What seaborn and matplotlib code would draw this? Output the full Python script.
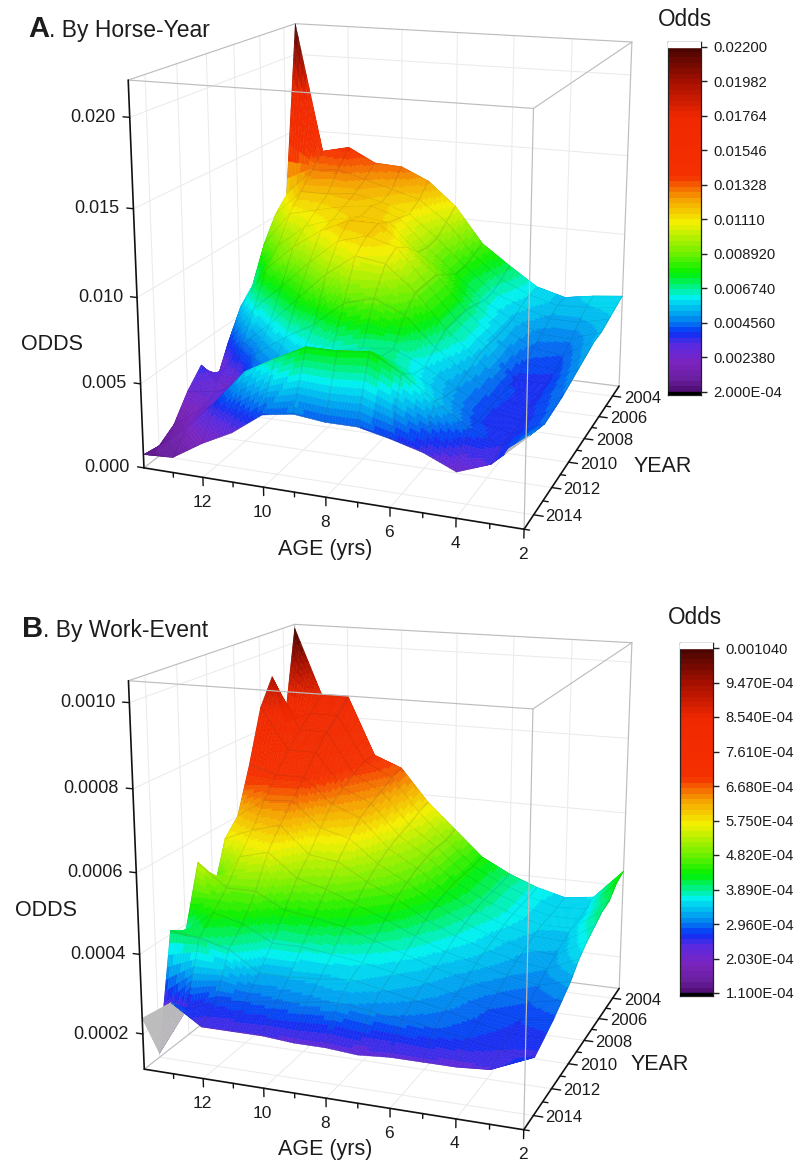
import numpy as np
import matplotlib
matplotlib.use("Agg")
import matplotlib.pyplot as plt
from matplotlib.colors import LinearSegmentedColormap, Normalize
from mpl_toolkits.mplot3d import proj3d
import seaborn as sns

W, H = 795, 1162
AGES = [14, 13, 12, 11, 10, 9, 8, 7, 6, 5, 4, 3, 2]
YEARS = list(range(2003, 2016))

ODDS_A = [
    [.0220, .0137, .0141, .0132, .0131, .0123, .0108, .0085, .0072, .0060, .0055, .0058, .0060],
    [.0110, .0128, .0130, .0125, .0120, .0115, .0102, .0082, .0068, .0060, .0055, .0056, .0058],
    [.0101, .0118, .0118, .0120, .0116, .0110, .0096, .0080, .0065, .0058, .0052, .0052, .0056],
    [.0086, .0108, .0112, .0116, .0118, .0112, .0095, .0080, .0065, .0055, .0048, .0047, .0054],
    [.0064, .0092, .0106, .0112, .0116, .0114, .0097, .0085, .0068, .0055, .0045, .0043, .0054],
    [.0055, .0082, .0098, .0110, .0118, .0118, .0105, .0090, .0070, .0055, .0042, .0040, .0052],
    [.0038, .0062, .0078, .0095, .0110, .0115, .0110, .0090, .0070, .0056, .0038, .0038, .0050],
    [.0018, .0045, .0060, .0078, .0095, .0108, .0105, .0090, .0070, .0055, .0040, .0038, .0048],
    [.0036, .0022, .0048, .0060, .0070, .0085, .0090, .0082, .0065, .0052, .0040, .0038, .0046],
    [.0026, .0028, .0036, .0048, .0058, .0062, .0066, .0068, .0060, .0050, .0040, .0036, .0045],
    [.0012, .0024, .0034, .0050, .0060, .0065, .0068, .0070, .0062, .0052, .0040, .0036, .0044],
    [.0006, .0020, .0038, .0058, .0068, .0077, .0077, .0079, .0069, .0056, .0044, .0036, .0047],
    [.0008, .0009, .0020, .0029, .0042, .0045, .0043, .0043, .0039, .0034, .0026, .0033, .0050],
]
ODDS_B_E6 = [
    [1040, 860, 860, 700, 670, 580, 510, 440, 400, 370, 350, 360, 440],
    [790, 820, 820, 700, 660, 570, 500, 435, 395, 365, 345, 350, 430],
    [930, 790, 790, 680, 640, 555, 500, 435, 395, 365, 345, 345, 405],
    [860, 750, 750, 660, 625, 545, 495, 435, 395, 365, 345, 345, 400],
    [720, 700, 700, 635, 605, 530, 485, 430, 390, 360, 340, 335, 385],
    [600, 650, 655, 590, 570, 510, 470, 420, 380, 350, 330, 325, 370],
    [560, 590, 610, 540, 530, 485, 450, 405, 370, 345, 325, 315, 350],
    [430, 540, 560, 500, 480, 450, 420, 385, 355, 335, 315, 300, 320],
    [540, 480, 480, 440, 430, 415, 390, 365, 340, 320, 300, 285, 300],
    [380, 440, 420, 380, 380, 370, 360, 345, 330, 310, 285, 270, 280],
    [410, 400, 380, 330, 330, 335, 345, 330, 315, 300, 280, 265, 265],
    [120, 245, 275, 285, 295, 305, 315, 305, 295, 285, 270, 255, 250],
    [240, 290, 240, 240, 240, 234, 234, 228, 234, 234, 234, 240, 275],
]
Z_TICKS_A = [0.0, 0.005, 0.010, 0.015, 0.020]
Z_LABELS_A = ["0.000", "0.005", "0.010", "0.015", "0.020"]
Z_TICKS_B = [0.0002, 0.0004, 0.0006, 0.0008, 0.0010]
Z_LABELS_B = ["0.0002", "0.0004", "0.0006", "0.0008", "0.0010"]
AGE_MAJOR = [12, 10, 8, 6, 4, 2]
AGE_MINOR = [13, 11, 9, 7, 5, 3]
YEAR_MAJOR = [2004, 2006, 2008, 2010, 2012, 2014]
YEAR_MINOR = [2005, 2007, 2009, 2011, 2013, 2015]
CB_LABELS_A = ["0.02200", "0.01982", "0.01764", "0.01546", "0.01328", "0.01110",
               "0.008920", "0.006740", "0.004560", "0.002380", "2.000E-04"]
CB_LABELS_B = ["0.001040", "9.470E-04", "8.540E-04", "7.610E-04", "6.680E-04", "5.750E-04",
               "4.820E-04", "3.890E-04", "2.960E-04", "2.030E-04", "1.100E-04"]

sns.set_theme(style="white")
plt.rcParams["font.family"] = ["Liberation Sans", "DejaVu Sans"]
TEXT = "#1c1c1c"
N_BANDS = 64

CMAP = LinearSegmentedColormap.from_list("odds", [
    (0.00, "#521078"), (0.03, "#6a1fa0"), (0.08, "#7a24c0"), (0.13, "#5a2ae0"), (0.165, "#0a30f5"),
    (0.20, "#0080f0"), (0.27, "#00f0f0"), (0.34, "#00f000"), (0.40, "#70f000"),
    (0.49, "#f4f000"), (0.56, "#f5a000"), (0.625, "#f53000"), (0.80, "#f02800"),
    (0.90, "#a81000"), (1.00, "#4a0500")]).resampled(N_BANDS)

fig = plt.figure(figsize=(W / 100, H / 100), dpi=100, facecolor="white")


def px_fig(x, y):
    return x / W, 1 - y / H


def solve_projection(ax, world, pixels, lo, hi):
    """Homography from the data box to the 2D view of a 3D axes."""
    world, pixels = np.array(world, float), np.array(pixels, float)
    lo, hi = np.array(lo, float), np.array(hi, float)
    cache = {}

    def get_proj():
        if "M" in cache:
            return cache["M"]
        ax.apply_aspect()
        disp = np.c_[pixels[:, 0], H - pixels[:, 1]]
        uv = ax.transData.inverted().transform(disp)
        U = (world - lo) / (hi - lo)
        rows = []
        for (X, Y, Z), (u, v) in zip(U, uv):
            rows.append([X, Y, Z, 1, 0, 0, 0, 0, -u * X, -u * Y, -u * Z, -u])
            rows.append([0, 0, 0, 0, X, Y, Z, 1, -v * X, -v * Y, -v * Z, -v])
        P = np.linalg.svd(np.array(rows))[2][-1].reshape(3, 4)
        if P[2] @ np.array([.5, .5, .5, 1]) < 0:
            P = -P
        P = P / (P[2] @ np.array([.5, .5, .5, 1]))
        S = np.diag(list(1 / (hi - lo)) + [1.0])
        S[:3, 3] = -lo / (hi - lo)
        cache["M"] = np.vstack([P[0], P[1], [0, 0, 0, -1], P[2]]) @ S
        return cache["M"]

    ax.get_proj = get_proj


STEPS = [0, .02, .1, .2, .3, .4, .5, .6, .7, .8, .9, .98]


def refine(values):
    out = [values[i] + s * (values[i + 1] - values[i])
           for i in range(len(values) - 1) for s in STEPS]
    return np.array(out + [values[-1]], float)


def place(ax, x, y, z, s, dx=0, dy=0, **kw):
    u, v, _ = proj3d.proj_transform(x, y, z, ax.get_proj())
    dxy = ax.transData.transform((u, v))
    fig.text((dxy[0] + dx) / W, (dxy[1] + dy) / H, s, color=TEXT, **kw)


def panel(top, odds, zlim, anchors, vrange, zticks, zlabels, grey, dz_unit):
    side = 660
    x0, y1 = px_fig(0, top + side)
    ax = fig.add_axes([x0, y1, side / W, side / H], projection="3d", computed_zorder=False)
    ax.set_axis_off()
    ax.patch.set_visible(False)
    ax.set_proj_type("ortho")
    zmin, zmax = zlim
    solve_projection(ax, anchors[0], anchors[1], (2, 2003, zmin), (14, 2015, zmax))

    age = np.array(AGES[::-1], float)
    year = np.array(YEARS, float)
    Z = np.array(odds, float)[:, ::-1]
    fa, fy = refine(age), refine(year)
    Zf = np.array([np.interp(fa, age, row) for row in Z])
    Zf = np.array([np.interp(fy, year, col) for col in Zf.T]).T
    A, Y = np.meshgrid(fa, fy)

    norm = Normalize(*vrange)
    Zc = Zf.copy()
    Zc[:-1, :-1] = (Zf[:-1, :-1] + Zf[1:, :-1] + Zf[:-1, 1:] + Zf[1:, 1:]) / 4
    rgba = CMAP(norm(Zc))
    n = len(STEPS)

    def is_line(f):
        return np.isin(np.arange(len(f)) % n, [0, n - 1]) & (np.arange(len(f)) < len(f) - 1)

    mask = is_line(fa)[None, :] | is_line(fy)[:, None]
    rgba[mask, :3] = rgba[mask, :3] * .88 + .12 * .25
    g = (A >= grey[0]) & (A < grey[1]) & (Y >= grey[2]) & (Y < grey[3])
    rgba[g] = matplotlib.colors.to_rgba("#bcbcbc")

    # walls and floor
    wall, wlw = "#ebebeb", .75
    for yr in YEAR_MAJOR:
        ax.plot([14, 14], [yr, yr], [zmin, zmax], color=wall, lw=wlw, zorder=1)
        ax.plot([14, 2], [yr, yr], [zmin, zmin], color=wall, lw=wlw, zorder=1)
    for a in AGE_MAJOR[:-1]:
        ax.plot([a, a], [2003, 2003], [zmin, zmax], color=wall, lw=wlw, zorder=1)
        ax.plot([a, a], [2003, 2015], [zmin, zmin], color=wall, lw=wlw, zorder=1)
    for z in zticks:
        ax.plot([14, 14], [2015, 2003], [z, z], color=wall, lw=wlw, zorder=1)
        ax.plot([14, 2], [2003, 2003], [z, z], color=wall, lw=wlw, zorder=1)
    edge, elw = "#bdbdbd", .85
    for xs, ys, zs, zo in [
        ([14, 2], [2015, 2015], [zmax, zmax], 3), ([2, 2], [2015, 2003], [zmax, zmax], 3),
        ([14, 2], [2003, 2003], [zmax, zmax], 1), ([14, 14], [2015, 2003], [zmax, zmax], 1),
        ([2, 2], [2003, 2003], [zmin, zmax], 1), ([14, 14], [2003, 2003], [zmin, zmax], 1),
        ([14, 2], [2003, 2003], [zmin, zmin], 1), ([14, 14], [2015, 2003], [zmin, zmin], 1),
        ([2, 2], [2015, 2015], [zmin, zmax], 3),
    ]:
        ax.plot(xs, ys, zs, color=edge, lw=elw, zorder=zo)

    ax.plot_surface(A, Y, Zf, rstride=1, cstride=1, facecolors=rgba, shade=False,
                    linewidth=.35, antialiased=True, zorder=2)

    # axes lines, ticks, labels
    blk = "#111111"
    ax.plot([14, 14], [2015, 2015], [zmin, zmax], color=blk, lw=1.2, zorder=4)
    ax.plot([14, 2], [2015, 2015], [zmin, zmin], color=blk, lw=1.2, zorder=4)
    ax.plot([2, 2], [2015, 2003], [zmin, zmin], color=blk, lw=1.2, zorder=4)
    for z, lab in zip(zticks, zlabels):
        ax.plot([14, 14.22], [2015, 2015], [z, z], color=blk, lw=1, zorder=4)
        place(ax, 14, 2015, z, lab, dx=-14, fontsize=13, ha="right", va="center")
    for a in AGE_MAJOR:
        ax.plot([a, a], [2015, 2015], [zmin, zmin - 9 * dz_unit], color=blk, lw=1, zorder=4)
        place(ax, a, 2015, zmin, str(a), dx=-1, dy=-25, fontsize=12.5, ha="center", va="center")
    for a in AGE_MINOR:
        ax.plot([a, a], [2015, 2015], [zmin, zmin - 5 * dz_unit], color=blk, lw=1, zorder=4)
    for yr in YEAR_MAJOR:
        ax.plot([2, 1.72], [yr, yr], [zmin, zmin], color=blk, lw=1, zorder=4)
        place(ax, 2, yr, zmin, str(yr), dx=30, dy=-2, fontsize=12, ha="center", va="center")
    for yr in YEAR_MINOR:
        ax.plot([2, 1.84], [yr, yr], [zmin, zmin], color=blk, lw=1, zorder=4)
    return ax


def colorbar(x0, x1, y0, y1, y_hi, y_lo, vrange, labels):
    l, b = px_fig(x0, y1)
    cax = fig.add_axes([l, b, (x1 - x0) / W, (y1 - y0) / H])
    levels = np.linspace(vrange[1], vrange[0], N_BANDS)
    sns.heatmap(levels[:, None], ax=cax, cmap=CMAP, vmin=vrange[0], vmax=vrange[1], cbar=False,
                xticklabels=False, yticklabels=False, rasterized=True)
    n = len(levels)
    per = n / (y_lo - y_hi)
    cax.set_ylim(n + (y1 - y_lo) * per, -(y_hi - y0) * per)
    cax.axhspan(-(y_hi - y0) * per, 0, color="white", zorder=3)
    cax.axhspan(n, n + (y1 - y_lo) * per, color="black", zorder=3)
    cax.yaxis.tick_right()
    cax.set_yticks(np.linspace(0, n, len(labels)))
    cax.set_yticklabels(labels, fontsize=10.6, color=TEXT)
    cax.tick_params(axis="y", right=True, left=False, length=4, width=1, color="#222222", pad=5)
    for s in cax.spines.values():
        s.set_visible(True)
        s.set_color("#222222")
        s.set_linewidth(.9)


anchors_a = ([(14, 2015, 0), (2, 2015, 0), (2, 2003, 0), (14, 2015, .022), (2, 2015, .022),
              (2, 2003, .022), (14, 2003, .022), (14, 2015, .020), (14, 2015, .010),
              (8, 2015, 0), (2, 2010, 0)],
             [(144.4, 468), (523, 528.3), (619.5, 384.8), (128.4, 78.8), (533.7, 108.4),
              (632, 42.5), (294.6, 24), (130, 117.6), (137.2, 297.8),
              (325.3, 497.6), (569, 464)])
ZMIN_B, ZMAX_B = .00011, .00105
anchors_b = ([(14, 2015, ZMIN_B), (2, 2015, ZMIN_B), (2, 2003, ZMIN_B), (14, 2015, ZMAX_B),
              (2, 2015, ZMAX_B), (2, 2003, ZMAX_B), (14, 2003, ZMAX_B), (14, 2015, .0010),
              (14, 2015, .0006), (14, 2015, .0002), (8, 2015, ZMIN_B), (2, 2010, ZMIN_B)],
             [(144.4, 1068.9), (523, 1128.6), (619.5, 987.5), (128.4, 680.4),
              (533.7, 708.9), (631.3, 642.9), (294.6, 624.3), (129.3, 702.5),
              (136.4, 873.2), (143, 1034.6), (325.3, 1097.5), (569, 1066)])

panel(0, ODDS_A, (0, .022), anchors_a, (2e-4, .022), Z_TICKS_A, Z_LABELS_A,
      (2, 2.6, 2014.6, 2015), .022 / 400)
panel(500, np.array(ODDS_B_E6) * 1e-6, (ZMIN_B, ZMAX_B), anchors_b, (1.1e-4, 1.04e-3),
      Z_TICKS_B, Z_LABELS_B, (13, 14, 2014, 2015), .00094 / 400)

colorbar(668, 701, 42, 395, 46.7, 391.7, (2e-4, .022), CB_LABELS_A)
colorbar(680, 713, 643, 996, 648, 993, (1.1e-4, 1.04e-3), CB_LABELS_B)


def label(x, y, s, size=15.5, **kw):
    fx, fy = px_fig(x, y)
    fig.text(fx, fy, s, fontsize=size, color=TEXT, **kw)


c = dict(ha="center", va="center")
label(684.5, 20, "Odds", 16.3, **c)
label(695, 617, "Odds", 16.3, **c)
label(52, 345, "ODDS", **c)
label(46, 911, "ODDS", **c)
label(325, 550, "AGE (yrs)", **c)
label(325, 1149, "AGE (yrs)", **c)
label(663, 466, "YEAR", **c)
label(660, 1065, "YEAR", **c)
bl = dict(ha="left", va="baseline")
label(28, 37, "A", 21, fontweight="bold", **bl)
label(49, 37, ". By Horse-Year", 16.5, **bl)
label(22, 637, "B", 21, fontweight="bold", **bl)
label(43, 637, ". By Work-Event", 16.5, **bl)

fig.savefig("out.png", dpi=100)
